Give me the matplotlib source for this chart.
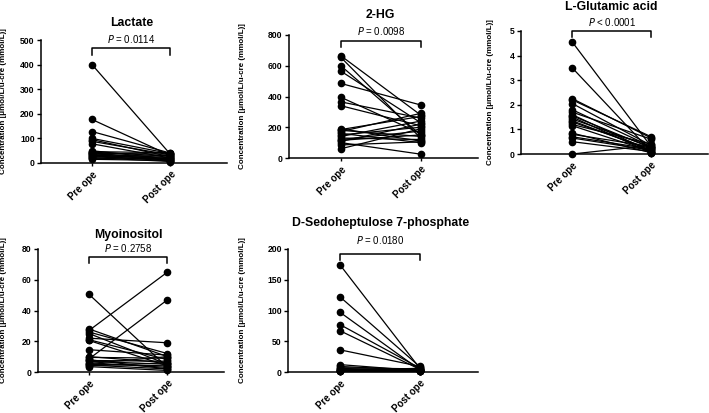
import numpy as np
import matplotlib
matplotlib.use("Agg")
import matplotlib.pyplot as plt

plt.rcParams["font.family"] = ["Liberation Sans", "DejaVu Sans"]

groups = ["Pre ope", "Post ope"]
ylabel = "Concentration [μmol/L/u-cre (mmol/L)]"

# paired values per metabolite
lactate_pre = [400, 177, 128, 100, 95, 88, 78, 50, 46, 44, 42, 40, 37, 35, 32, 30, 27, 25, 22, 19, 15]
lactate_post = [35, 30, 40, 38, 25, 33, 20, 15, 42, 28, 10, 36, 22, 12, 18, 8, 30, 14, 6, 20, 10]

hg_pre = [665, 655, 600, 565, 485, 395, 365, 340, 190, 185, 180, 172, 160, 150, 140, 130, 120, 115, 108, 100, 85, 60]
hg_post = [280, 130, 150, 230, 345, 160, 260, 210, 110, 270, 140, 290, 100, 200, 240, 120, 175, 150, 220, 25, 105, 190]

glu_pre = [4.55, 3.5, 2.25, 2.2, 2.05, 1.8, 1.7, 1.6, 1.55, 1.5, 1.42, 1.35, 1.3, 1.2, 1.15, 0.85, 0.8, 0.7, 0.65, 0.5, 0.0]
glu_post = [0.3, 0.1, 0.65, 0.7, 0.35, 0.3, 0.6, 0.1, 0.25, 0.05, 0.3, 0.15, 0.2, 0.4, 0.1, 0.05, 0.3, 0.2, 0.15, 0.1, 0.35]

myo_pre = [50.5, 28, 27, 26, 25, 22, 21, 20.5, 14.5, 10, 9.5, 8.5, 8, 7.5, 7, 6, 5.5, 5, 4.5, 4, 3.5]
myo_post = [3, 10, 65, 12, 5, 19, 8, 4, 11, 6, 9, 47, 2, 7, 5, 3, 10, 4, 2, 6, 1]

sed_pre = [174, 122, 97, 77, 67, 36, 12, 9, 7, 6, 5, 4, 3, 3, 2, 2, 1, 1]
sed_post = [5, 8, 3, 6, 4, 9, 2, 3, 5, 1, 4, 2, 6, 1, 3, 2, 4, 1]

titles = ["Lactate", "2-HG", "L-Glutamic acid", "Myoinositol", "D-Sedoheptulose 7-phosphate"]
pvals = ["= 0.0114", "= 0.0098", "< 0.0001", "= 0.2758", "= 0.0180"]
ytops = [500, 800, 5, 80, 200]
ysteps = [100, 200, 1, 20, 50]
pre_sets = [lactate_pre, hg_pre, glu_pre, myo_pre, sed_pre]
post_sets = [lactate_post, hg_post, glu_post, myo_post, sed_post]

W, H = 709, 413
# pixel boxes: left, right, bottom(y of zero), top(y of max), ylabel x
boxes = [
    (41, 227, 163, 40, 7),
    (289, 478, 158, 35, 246),
    (521, 708, 154, 31, 494),
    (38, 224, 372, 249, 7),
    (288, 478, 372, 249, 246),
]
# bracket top, bracket bottom, p text, title (axes fraction)
annot = [
    (0.935, 0.878, 1.01, 1.14),
    (0.95, 0.90, 1.03, 1.16),
    (1.0, 0.95, 1.07, 1.195),
    (0.937, 0.886, 1.01, 1.11),
    (0.96, 0.91, 1.07, 1.21),
]

fig = plt.figure(figsize=(W / 100, H / 100), dpi=100)

for i in range(5):
    l, r, b, t, lx = boxes[i]
    ax = fig.add_axes([l / W, 1 - b / H, (r - l) / W, (b - t) / H])
    pre = pre_sets[i]
    post = post_sets[i]
    for a, c in zip(pre, post):
        ax.plot([0, 1], [a, c], color="black", lw=0.9, marker="o", ms=4.5, zorder=3, clip_on=False)
    ax.set_xlim(-0.65, 1.72)
    ax.set_ylim(0, ytops[i])
    ax.set_yticks(np.arange(0, ytops[i] + ysteps[i] / 2, ysteps[i]))
    ax.set_xticks([0, 1])
    ax.set_xticklabels(groups, rotation=45, ha="right", rotation_mode="anchor",
                       fontsize=7, fontweight="bold")
    for lab in ax.get_yticklabels():
        lab.set_fontweight("bold")
        lab.set_fontsize(6.2)
    ax.tick_params(axis="y", length=3, width=1, pad=1.5)
    ax.tick_params(axis="x", length=2.5, width=1, pad=2)
    for s in ["top", "right"]:
        ax.spines[s].set_visible(False)
    for s in ["left", "bottom"]:
        ax.spines[s].set_linewidth(1.1)
    ax.set_ylabel(ylabel, fontsize=5.8, fontweight="bold")
    ax.yaxis.set_label_coords((lx - l) / (r - l), 0.5)

    bt, bb, py, ty = annot[i]
    trans = ax.get_xaxis_transform()
    ax.plot([0, 0, 1, 1], [bb, bt, bt, bb], color="black", lw=1.1, transform=trans, clip_on=False)
    ax.text(0.5, py, "$\\it{P}$ " + pvals[i], transform=trans, ha="center", va="center", fontsize=7)
    ax.text(0.5, ty, titles[i], transform=trans, ha="center", va="center", fontsize=8.8, fontweight="bold")

fig.savefig("out.png", dpi=100)
